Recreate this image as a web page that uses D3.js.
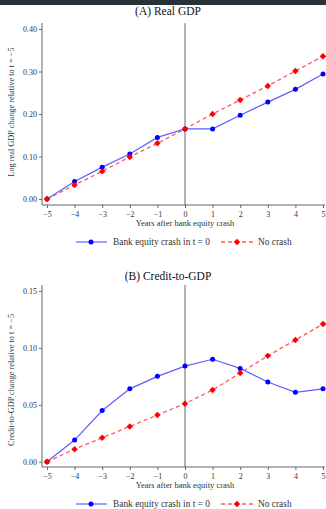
<!DOCTYPE html>
<html>
<head>
<meta charset="utf-8">
<script src="https://d3js.org/d3.v7.min.js"></script>
<style>
  body { margin: 0; background: #fff; }
  svg { display: block; font-family: "Liberation Serif", "DejaVu Serif", serif; }
</style>
</head>
<body>
<svg width="326" height="509"></svg>
<script>
// data
var years = [-5, -4, -3, -2, -1, 0, 1, 2, 3, 4, 5];
var gdpCrash   = [0, 0.041, 0.075, 0.106, 0.145, 0.165, 0.165, 0.197, 0.228, 0.258, 0.294];
var gdpNoCrash = [0, 0.033, 0.065, 0.099, 0.131, 0.165, 0.200, 0.233, 0.266, 0.301, 0.336];
var cgCrash    = [0, 0.019, 0.045, 0.064, 0.075, 0.084, 0.090, 0.082, 0.070, 0.061, 0.064];
var cgNoCrash  = [0, 0.011, 0.021, 0.031, 0.041, 0.051, 0.063, 0.078, 0.093, 0.107, 0.121];
var gdpTicks = [0, 0.1, 0.2, 0.3, 0.4];
var cgTicks = [0, 0.05, 0.1, 0.15];
var seriesNames = ["Bank equity crash in t = 0", "No crash"];

var svg = d3.select("svg");

// dark strip at the top of the screenshot
svg.append("rect").attr("x", 0).attr("y", 0).attr("width", 326).attr("height", 5).attr("fill", "#263238");

var x = d3.scaleLinear().domain([-5, 5]).range([47, 323]);

// red marker: square turned 45 degrees
var diamond = d3.symbol().type(d3.symbolSquare).size(21);
function diamondAt(px, py) { return "translate(" + px + "," + py + ") rotate(45)"; }

function panel(opts) {
  var g = svg.append("g");
  var y = d3.scaleLinear().domain(opts.domain).range(opts.range);

  g.append("text")
    .attr("x", 168).attr("y", opts.titleY)
    .attr("text-anchor", "middle").attr("font-size", "11.5px").attr("fill", "#111")
    .text(opts.title);

  // vertical line at t = 0
  g.append("line")
    .attr("x1", x(0)).attr("x2", x(0))
    .attr("y1", opts.top).attr("y2", opts.axisY)
    .attr("stroke", "#666").attr("stroke-width", 1);

  // y axis
  var ya = g.append("g").attr("transform", "translate(42,0)")
    .call(d3.axisLeft(y).tickValues(opts.ticks).tickFormat(d3.format(opts.fmt)).tickSize(3).tickPadding(2));
  ya.select(".domain").attr("d", "M0," + opts.top + "V" + opts.axisY).attr("stroke", "#666");
  ya.selectAll(".tick line").attr("stroke", "#666");
  ya.selectAll("text").attr("font-size", "8px").attr("fill", "#333").attr("font-family", "Liberation Serif");

  // x axis
  var xa = g.append("g").attr("transform", "translate(0," + opts.axisY + ")")
    .call(d3.axisBottom(x).tickValues(years).tickFormat(d3.format("d")).tickSize(3).tickPadding(3));
  xa.select(".domain").attr("d", "M42,0H325").attr("stroke", "#666");
  xa.selectAll(".tick line").attr("stroke", "#666");
  xa.selectAll("text").attr("font-size", "8px").attr("fill", "#333").attr("font-family", "Liberation Serif");

  g.append("text")
    .attr("x", x(0)).attr("y", opts.axisY + 21)
    .attr("text-anchor", "middle").attr("font-size", "8.5px").attr("fill", "#333")
    .text("Years after bank equity crash");

  g.append("text")
    .attr("transform", "translate(14," + opts.labelY + ") rotate(-90)")
    .attr("text-anchor", "middle").attr("font-size", "8.3px").attr("fill", "#333")
    .text(opts.ylabel);

  var line = d3.line().x(function(d, i) { return x(years[i]); }).y(function(d) { return y(d); });

  g.append("path").datum(opts.noCrash).attr("d", line)
    .attr("fill", "none").attr("stroke", "#ff5a5a").attr("stroke-width", 1.3).attr("stroke-dasharray", "4,3");
  g.append("path").datum(opts.crash).attr("d", line)
    .attr("fill", "none").attr("stroke", "#5f5fff").attr("stroke-width", 1.2);

  g.selectAll(".blue").data(opts.crash).enter().append("circle")
    .attr("cx", function(d, i) { return x(years[i]); })
    .attr("cy", function(d) { return y(d); })
    .attr("r", 2.5).attr("fill", "#0000ff");

  g.selectAll(".red").data(opts.noCrash).enter().append("path")
    .attr("d", diamond)
    .attr("transform", function(d, i) { return diamondAt(x(years[i]), y(d)); })
    .attr("fill", "#ff0000");

  // legend
  var ly = opts.legendY;
  g.append("line").attr("x1", 76).attr("x2", 107).attr("y1", ly).attr("y2", ly)
    .attr("stroke", "#5f5fff").attr("stroke-width", 1.2);
  g.append("circle").attr("cx", 91).attr("cy", ly).attr("r", 2.5).attr("fill", "#0000ff");
  g.append("text").attr("x", 113).attr("y", ly + 3).attr("font-size", "9.4px").attr("fill", "#333").text(seriesNames[0]);

  g.append("line").attr("x1", 221).attr("x2", 254).attr("y1", ly).attr("y2", ly)
    .attr("stroke", "#ff5a5a").attr("stroke-width", 1.3).attr("stroke-dasharray", "4,3");
  g.append("path").attr("d", diamond).attr("transform", diamondAt(237, ly)).attr("fill", "#ff0000");
  g.append("text").attr("x", 258).attr("y", ly + 3).attr("font-size", "9.4px").attr("fill", "#333").text(seriesNames[1]);
}

panel({
  title: "(A)  Real GDP", titleY: 15,
  domain: [0, 0.4], range: [199, 29], ticks: gdpTicks, fmt: ".2f",
  top: 23, axisY: 205, labelY: 112,
  ylabel: "Log real GDP change relative to t = \u22125",
  crash: gdpCrash, noCrash: gdpNoCrash, legendY: 242
});

panel({
  title: "(B)  Credit-to-GDP", titleY: 280,
  domain: [0, 0.15], range: [461.7, 291], ticks: cgTicks, fmt: ".2f",
  top: 285, axisY: 467, labelY: 380,
  ylabel: "Credit-to-GDP change relative to t = \u22125",
  crash: cgCrash, noCrash: cgNoCrash, legendY: 504
});
</script>
</body>
</html>
